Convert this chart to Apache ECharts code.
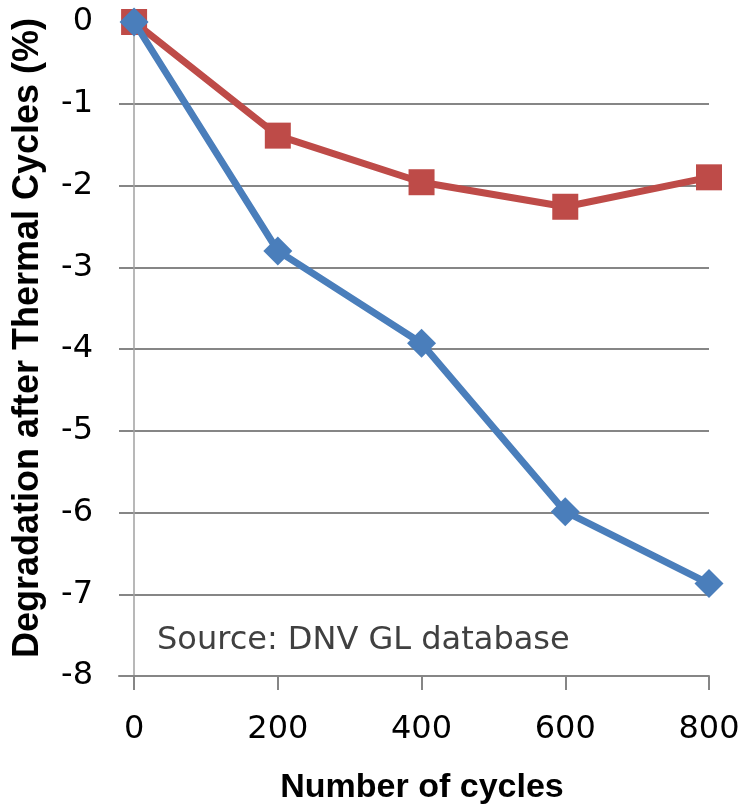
<!DOCTYPE html>
<html>
<head>
<meta charset="utf-8">
<script src="https://cdn.jsdelivr.net/npm/echarts@6/dist/echarts.min.js"></script>
<style>
  html, body { margin: 0; padding: 0; background: #fff; }
  #chart { width: 742px; height: 807px; }
</style>
</head>
<body>
<div id="chart"></div>
<script>
  const cycles = [0, 200, 400, 600, 800]
  const blueValues = [0, -2.8, -3.93, -5.99, -6.87]
  const redValues = [0, -1.39, -1.96, -2.26, -1.9]
  const xTicks = [0, 200, 400, 600, 800]

  const gray = "#868686"

  const options = {
    animation: false,
    grid: {
      left: 119,
      right: 33,
      top: 22,
      bottom: 131,
      outerBoundsMode: "none",
      containLabel: false,
    },
    xAxis: {
      type: "value",
      min: -21,
      max: 800,
      name: "Number of cycles",
      nameLocation: "middle",
      nameGap: 95,
      nameTextStyle: {
        fontFamily: "Liberation Sans",
        fontWeight: "bold",
        fontSize: 34,
        color: "#000",
        padding: [0, 0, 0, 16],
      },
      axisLine: { onZero: false, lineStyle: { color: gray, width: 2 } },
      axisTick: {
        show: true,
        length: 14,
        customValues: xTicks,
        lineStyle: { color: gray, width: 2 },
      },
      axisLabel: {
        customValues: xTicks,
        margin: 38,
        fontFamily: "DejaVu Sans",
        fontSize: 32,
        color: "#000",
      },
      splitLine: { show: false },
    },
    yAxis: {
      type: "value",
      min: -8,
      max: 0,
      interval: 1,
      name: "Degradation after Thermal Cycles (%)",
      nameLocation: "middle",
      nameGap: 73,
      nameTextStyle: {
        fontFamily: "Liberation Sans",
        fontWeight: "bold",
        fontSize: 36,
        color: "#000",
        padding: [0, 0, 0, 22],
      },
      axisLine: { show: true, onZero: true, lineStyle: { color: "#a0a0a0", width: 1.5 } },
      axisTick: { show: false },
      axisLabel: {
        margin: 26,
        fontFamily: "DejaVu Sans",
        fontSize: 32,
        color: "#000",
      },
      splitLine: {
        show: true,
        showMinLine: false,
        showMaxLine: false,
        lineStyle: { color: gray, width: 2 },
      },
    },
    graphic: [
      {
        type: "text",
        left: 157,
        top: 625,
        style: {
          text: "Source: DNV GL database",
          fontFamily: "DejaVu Sans",
          fontSize: 32,
          fill: "#404040",
        },
      },
    ],
    series: [
      {
        name: "red",
        type: "line",
        data: cycles.map((c, i) => [c, redValues[i]]),
        symbol: "rect",
        symbolSize: 26,
        lineStyle: { color: "#be4b48", width: 7 },
        itemStyle: { color: "#be4b48" },
        z: 2,
      },
      {
        name: "blue",
        type: "line",
        data: cycles.map((c, i) => [c, blueValues[i]]),
        symbol: "diamond",
        symbolSize: 29,
        lineStyle: { color: "#4a7ebb", width: 7 },
        itemStyle: { color: "#4a7ebb" },
        z: 3,
      },
    ],
  }

  let myChart = echarts.init(document.getElementById("chart"))
  myChart.setOption(options)
  window.addEventListener("resize", () => myChart.resize(), false)
</script>
</body>
</html>
